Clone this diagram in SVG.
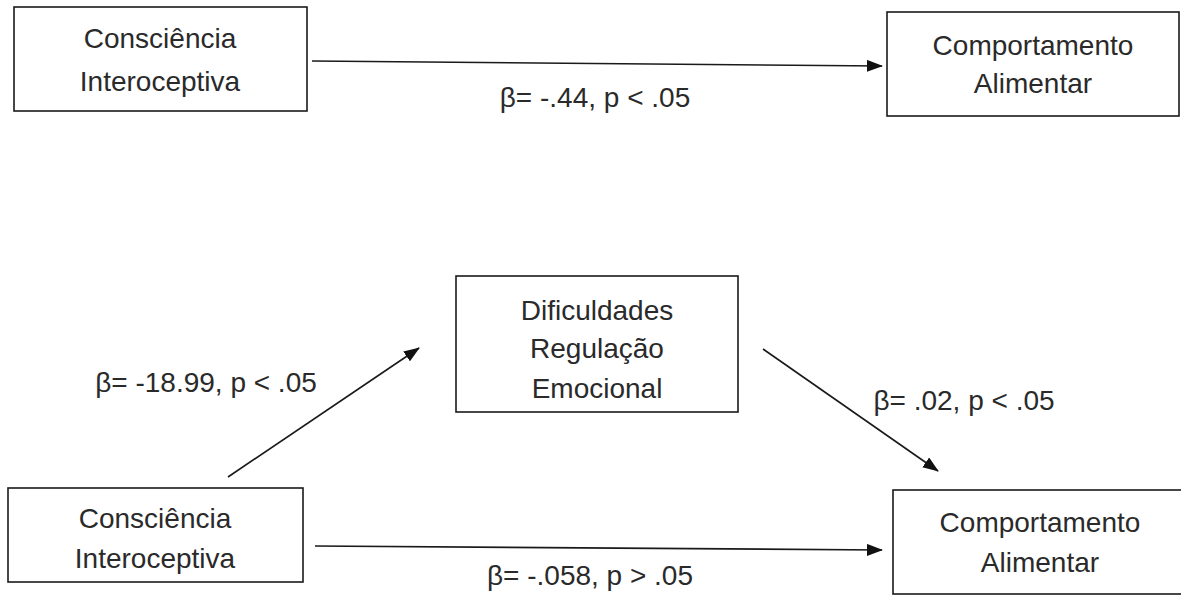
<svg xmlns="http://www.w3.org/2000/svg" width="1181" height="599" viewBox="0 0 1181 599">
<style>
.box{fill:#fff;stroke:#1a1a1a;stroke-width:1.6}
.t{font-family:"Liberation Sans",Arial,sans-serif;font-size:28px;fill:#2a2a2a;text-anchor:middle}
.c{stroke:#1a1a1a;stroke-width:1.6;fill:none;marker-end:url(#ah)}
</style>
<defs>
<marker id="ah" markerWidth="16" markerHeight="12" refX="15" refY="6" orient="auto" markerUnits="userSpaceOnUse">
<path d="M0,0 L16,6 L0,12 Z" fill="#111"/>
</marker>
</defs>
<rect width="1181" height="599" fill="#fff"/>
<g id="connectors">
<line class="c" x1="312" y1="61" x2="882" y2="66"/>
<line class="c" x1="228" y1="477" x2="419" y2="348"/>
<line class="c" x1="763" y1="349" x2="938" y2="471"/>
<line class="c" x1="315" y1="546" x2="882" y2="550"/>
<text class="t" x="595" y="107">β= -.44, p &lt; .05</text>
<text class="t" x="206" y="392">β= -18.99, p &lt; .05</text>
<text class="t" x="964" y="410">β= .02, p &lt; .05</text>
<text class="t" x="590" y="585">β= -.058, p &gt; .05</text>
</g>
<g id="n1">
<rect class="box" x="14" y="7" width="293" height="104"/>
<text class="t" x="160" y="48">Consciência</text>
<text class="t" x="160" y="91">Interoceptiva</text>
</g>
<g id="n2">
<rect class="box" x="887" y="12" width="292" height="104"/>
<text class="t" x="1033" y="55">Comportamento</text>
<text class="t" x="1033" y="93">Alimentar</text>
</g>
<g id="n3">
<rect class="box" x="456" y="276" width="282" height="136"/>
<text class="t" x="597" y="320">Dificuldades</text>
<text class="t" x="597" y="358">Regulação</text>
<text class="t" x="597" y="398">Emocional</text>
</g>
<g id="n4">
<rect class="box" x="8" y="488" width="295" height="94"/>
<text class="t" x="155" y="528">Consciência</text>
<text class="t" x="155" y="568">Interoceptiva</text>
</g>
<g id="n5">
<rect class="box" x="893" y="490" width="300" height="104"/>
<text class="t" x="1040" y="532">Comportamento</text>
<text class="t" x="1040" y="572">Alimentar</text>
</g>
</svg>
